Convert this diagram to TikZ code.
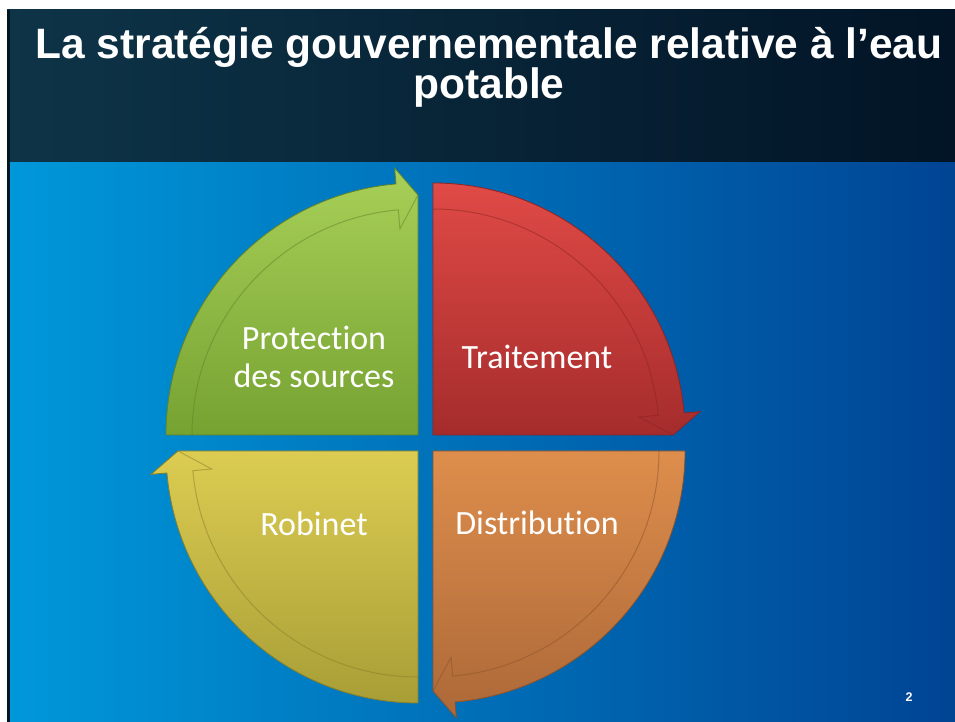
\documentclass[tikz,border=0pt]{standalone}
\usepackage{fontspec}
\setmainfont{Carlito}[Ligatures={NoCommon,NoRare,NoDiscretionary}]
\newfontfamily\headfont{Liberation Sans}
\usepackage{tikz}
\usetikzlibrary{positioning}
\definecolor{hdleft}{RGB}{14,52,72}
\definecolor{hdright}{RGB}{2,20,38}
\definecolor{bgleft}{RGB}{0,152,218}
\definecolor{bgright}{RGB}{0,68,148}
\definecolor{edgedark}{RGB}{0,22,32}
\definecolor{greentop}{RGB}{168,208,88}
\definecolor{greenbot}{RGB}{118,162,50}
\definecolor{greenline}{RGB}{96,130,40}
\definecolor{redtop}{RGB}{224,74,70}
\definecolor{redbot}{RGB}{165,44,44}
\definecolor{redline}{RGB}{140,36,36}
\definecolor{yellowtop}{RGB}{220,204,82}
\definecolor{yellowbot}{RGB}{168,158,54}
\definecolor{yellowline}{RGB}{135,126,40}
\definecolor{orangetop}{RGB}{222,142,76}
\definecolor{orangebot}{RGB}{172,104,56}
\definecolor{orangeline}{RGB}{140,82,42}
\tikzstyle{quad}=[line width=0.8]
\tikzstyle{band}=[line width=1,opacity=0.5]
\tikzstyle{qtext}=[text=white,font=\fontsize{34}{38}\selectfont,align=center]
\tikzstyle{headtext}=[text=white,font=\headfont\bfseries\fontsize{42.5}{40}\selectfont,align=center]

\begin{document}
\begin{tikzpicture}[x=1pt,y=1pt]
      \useasboundingbox (0,0) rectangle (955,722);
      \fill[white] (0,0) rectangle (955,722);
      \shade[left color=hdleft,right color=hdright] (7,559) rectangle (955,712);
      \shade[left color=bgleft,right color=bgright] (7,0) rectangle (955,559);
      \fill[edgedark] (7,0) rectangle (10,712);
      \node[headtext] at (489,655) (title) {La stratégie gouvernementale relative à l’eau\\potable};
      \foreach \cx/\cy/\a/\q in {418/287/180/green,433/287/90/red,418/271/270/yellow,433/271/0/orange}{
        \begin{scope}[shift={(\cx,\cy)}]
          \draw[quad,draw=\q line,top color=\q top,bottom color=\q bot]
            (0,0) -- (\a:252) arc[start angle=\a,delta angle=-85,radius=252]
            -- ({\a-85}:268) -- ({\a-90}:240) -- cycle;
          \draw[band,draw=\q line] (\a:226) arc[start angle=\a,delta angle=-85,radius=226]
            -- ({\a-85}:207) -- ({\a-90}:240);
        \end{scope}
      }
      \node[qtext,anchor=base] at (314,372) (prot) {Protection};
      \node[qtext,anchor=base] at (314,334) (sources) {des sources};
      \node[qtext,anchor=base] at (537,353) (trait) {Traitement};
      \node[qtext,anchor=base] at (314,186) (robi) {Robinet};
      \node[qtext,anchor=base] at (537,187) (distr) {Distribution};
      \node[text=white,font=\headfont\bfseries\fontsize{12.5}{14}\selectfont,anchor=base] at (909,20) (page) {2};
    \end{tikzpicture}
\end{document}
